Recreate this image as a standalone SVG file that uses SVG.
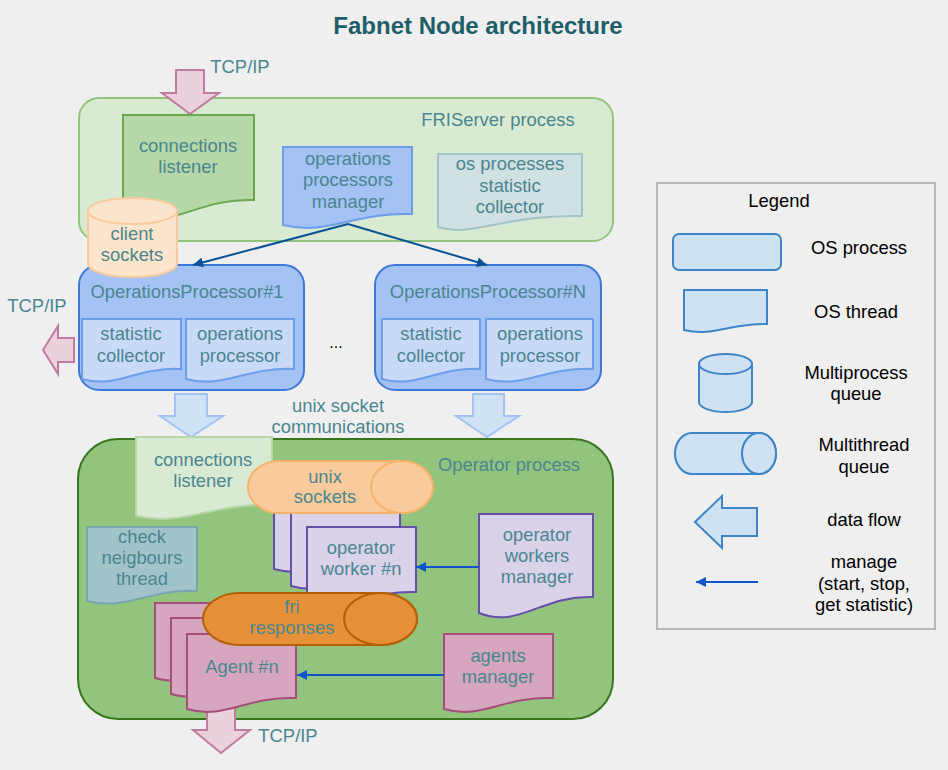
<svg xmlns="http://www.w3.org/2000/svg" width="948" height="770" viewBox="0 0 948 770">
<style>
text{font-family:"Liberation Sans",Arial,sans-serif;font-size:18.4px;fill:#4a868f;text-anchor:middle}
.title{font-size:24px;font-weight:bold;fill:#1d5e68}
.lg{fill:#000}
.s{stroke-width:2}
.fri{fill:#d9ead3;stroke:#93c47d}
.op{fill:#93c47d;stroke:#38761d}
.opp{fill:#a4c2f4;stroke:#3c78d8}
.inner{fill:#c9daf8;stroke:#6d9eeb}
.pink{fill:#ead1dc;stroke:#c27ba0}
.lblue{fill:#cfe2f3;stroke:#a4c2f4}
.wrk{fill:#d9d2e9;stroke:#674ea7}
.agt{fill:#d5a6bd;stroke:#a64d79}
.leg{fill:#cfe2f3;stroke:#3d85c6}
.mg1{fill:none;stroke:#0b5394;stroke-width:2}
.mg2{fill:none;stroke:#1155cc;stroke-width:2}
</style>
<defs>
<marker id="a1" viewBox="0 0 10 10" refX="10" refY="5" markerWidth="12" markerHeight="10" markerUnits="userSpaceOnUse" orient="auto"><path d="M0,0 L10,5 L0,10 Z" fill="#0b5394"/></marker>
<marker id="a2" viewBox="0 0 10 10" refX="10" refY="5" markerWidth="12" markerHeight="10" markerUnits="userSpaceOnUse" orient="auto"><path d="M0,0 L10,5 L0,10 Z" fill="#1155cc"/></marker>
</defs>
<rect width="948" height="770" fill="#efefef"/>
<text class="title" x="478" y="34">Fabnet Node architecture</text>

<g id="friserver">
<rect class="fri s" x="79" y="98" width="534" height="143" rx="20"/>
<text x="498" y="126">FRIServer process</text>
</g>
<g id="tcp-in">
<path class="pink s" d="M176,70 H204 V93 H219 L190,114 L162,93 H176 Z"/>
<text x="240" y="73">TCP/IP</text>
</g>
<g id="connections-listener-1">
<path class="s" fill="#b6d7a8" stroke="#6aa84f" d="M123,115 H254 V200 C196,198 169,232 123,216 Z"/>
<text x="188" y="152">connections</text>
<text x="188" y="173">listener</text>
</g>
<g id="ops-manager">
<path class="s" fill="#a4c2f4" stroke="#6d9eeb" d="M283,147 H412 V214 C354,212 328,236 283,225 Z"/>
<text x="348" y="165">operations</text>
<text x="348" y="186">processors</text>
<text x="348" y="208">manager</text>
</g>
<g id="os-stat">
<path class="s" fill="#d0e0e3" stroke="#a2c4c9" d="M438,154 H582 V216 C503,214 474,238 438,227 Z"/>
<text x="510" y="170">os processes</text>
<text x="510" y="192">statistic</text>
<text x="510" y="213">collector</text>
</g>

<g id="op1">
<rect class="opp s" x="79" y="265" width="225" height="125" rx="20"/>
<text x="187" y="298">OperationsProcessor#1</text>
<path class="inner s" d="M82,319 H181 V369 C136,367 117,389 82,379 Z"/>
<text x="131" y="340">statistic</text>
<text x="131" y="362">collector</text>
<path class="inner s" d="M186,319 H294 V369 C245,367 224,389 186,379 Z"/>
<text x="240" y="340">operations</text>
<text x="240" y="362">processor</text>
</g>
<g id="opN">
<rect class="opp s" x="375" y="265" width="226" height="125" rx="20"/>
<text x="488" y="298">OperationsProcessor#N</text>
<path class="inner s" d="M382,319 H480 V369 C436,367 416,389 382,379 Z"/>
<text x="431" y="340">statistic</text>
<text x="431" y="362">collector</text>
<path class="inner s" d="M486,319 H593 V369 C545,367 523,389 486,379 Z"/>
<text x="540" y="340">operations</text>
<text x="540" y="362">processor</text>
</g>
<text class="lg" x="336" y="348" style="font-size:16px">...</text>

<g id="client-sockets">
<path class="s" fill="#fce5cd" stroke="#f9cb9c" d="M88,211 A44.5,13 0 0 1 177,211 V264 A44.5,13 0 0 1 88,264 Z"/>
<path class="s" fill="none" stroke="#f9cb9c" d="M88,211 A44.5,13 0 0 0 177,211"/>
<text x="132" y="240">client</text>
<text x="132" y="261">sockets</text>
</g>

<g id="tcp-left">
<path class="pink s" d="M74,338 H58 V326 L43,350 L58,374 V362 H74 Z"/>
<text x="37" y="312">TCP/IP</text>
</g>
<g id="unix-arrows">
<path class="lblue s" d="M175,394 H207 V416 H223 L191,437 L160,416 H175 Z"/>
<path class="lblue s" d="M473,394 H504 V416 H519 L487,437 L456,416 H473 Z"/>
<text x="338" y="412">unix socket</text>
<text x="338" y="433">communications</text>
</g>

<g id="operator">
<rect class="op s" x="78" y="439" width="535" height="280" rx="40"/>
<text x="509" y="471">Operator process</text>
</g>
<g id="tcp-out">
<path class="pink s" d="M207,700 H235 V730 H250 L221,753 L193,730 H207 Z"/>
<text x="288" y="742">TCP/IP</text>
</g>
<g id="connections-listener-2">
<path class="s" fill="#d9ead3" stroke="#b6d7a8" d="M136,437 H272 V505 C211,503 184,527 136,516 Z"/>
<text x="203" y="466">connections</text>
<text x="203" y="487">listener</text>
</g>
<g id="check-neighbours">
<path class="s" fill="#a2c4c9" stroke="#76a5af" d="M87,527 H197 V591 C148,589 126,611 87,601 Z"/>
<text x="142" y="543">check</text>
<text x="142" y="564">neigbours</text>
<text x="142" y="585">thread</text>
</g>
<g id="operator-workers">
<path class="wrk s" d="M274,494 H383 V558 C334,556 312,580 274,569 Z"/>
<path class="wrk s" d="M291,510 H400 V575 C351,573 329,597 291,586 Z"/>
<path class="wrk s" d="M307,527 H416 V592 C367,590 345,614 307,603 Z"/>
<text x="361" y="554">operator</text>
<text x="361" y="575">worker #n</text>
</g>
<g id="unix-sockets">
<path class="s" fill="#f9cb9c" stroke="#f6b26b" d="M279,461 H402 A31,26 0 0 1 402,513 H279 A31,26 0 0 1 279,461 Z"/>
<ellipse class="s" fill="#f9cb9c" stroke="#f6b26b" cx="402" cy="487" rx="31" ry="26"/>
<text x="325" y="483">unix</text>
<text x="325" y="503">sockets</text>
</g>
<g id="agents">
<path class="agt s" d="M155,603 H264 V667 C215,665 193,689 155,678 Z"/>
<path class="agt s" d="M171,618 H280 V683 C231,681 209,705 171,694 Z"/>
<path class="agt s" d="M187,634 H296 V698 C247,696 225,720 187,709 Z"/>
<text x="242" y="673">Agent #n</text>
</g>
<g id="fri-responses">
<path class="s" fill="#e69138" stroke="#b45f06" d="M239.5,593 H380.5 A36.5,26 0 0 1 380.5,645 H239.5 A36.5,26 0 0 1 239.5,593 Z"/>
<ellipse class="s" fill="#e69138" stroke="#b45f06" cx="380.5" cy="619" rx="36.5" ry="26"/>
<text x="292" y="613">fri</text>
<text x="292" y="634">responses</text>
</g>
<g id="workers-manager">
<path class="wrk s" d="M479,514 H593 V597 C542,595 519,629 479,613 Z"/>
<text x="537" y="541">operator</text>
<text x="537" y="562">workers</text>
<text x="537" y="583">manager</text>
</g>
<g id="agents-manager">
<path class="agt s" d="M444,634 H553 V698 C504,696 482,720 444,709 Z"/>
<text x="498" y="662">agents</text>
<text x="498" y="683">manager</text>
</g>

<g id="connectors">
<path class="mg1" d="M348,224 L193,265" marker-end="url(#a1)"/>
<path class="mg1" d="M348,224 L487,265" marker-end="url(#a1)"/>
<path class="mg2" d="M479,567 L416,567" marker-end="url(#a2)"/>
<path class="mg2" d="M444,675 L297,675" marker-end="url(#a2)"/>
</g>

<g id="legend">
<rect x="657" y="183" width="278" height="446" fill="none" stroke="#b7b7b7" stroke-width="2"/>
<text class="lg" x="779" y="207">Legend</text>
<rect class="leg s" x="673" y="234" width="108" height="36" rx="6"/>
<text class="lg" x="859" y="254">OS process</text>
<path class="leg s" d="M684,290 H767 V324 C730,323 713,337 684,330 Z"/>
<text class="lg" x="856" y="318">OS thread</text>
<path class="leg s" d="M699,364 A26.5,10 0 0 1 752,364 V402 A26.5,10 0 0 1 699,402 Z"/>
<path class="s" fill="none" stroke="#3d85c6" d="M699,364 A26.5,10 0 0 0 752,364"/>
<text class="lg" x="856" y="379">Multiprocess</text>
<text class="lg" x="856" y="400">queue</text>
<path class="leg s" d="M692,433 H759 A17,20.5 0 0 1 759,474 H692 A17,20.5 0 0 1 692,433 Z"/>
<ellipse class="leg s" cx="759" cy="453.5" rx="17" ry="20.5"/>
<text class="lg" x="864" y="451">Multithread</text>
<text class="lg" x="864" y="473">queue</text>
<path class="leg s" d="M757,508 V536 H722 V548 L695,522 L722,496 V508 Z"/>
<text class="lg" x="864" y="526">data flow</text>
<path class="mg2" d="M758,582 L696,582" marker-end="url(#a2)"/>
<text class="lg" x="864" y="568">manage</text>
<text class="lg" x="864" y="590">(start, stop,</text>
<text class="lg" x="864" y="611">get statistic)</text>
</g>
</svg>
